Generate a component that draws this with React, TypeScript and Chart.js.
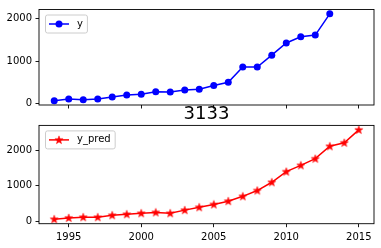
import { useEffect, useRef } from 'react';
import { Chart, registerables } from 'chart.js';

Chart.register(...registerables);

const yearsActual = [1994, 1995, 1996, 1997, 1998, 1999, 2000, 2001, 2002, 2003, 2004, 2005, 2006, 2007, 2008, 2009, 2010, 2011, 2012, 2013];
const valuesActual = [75, 113, 98, 116, 158, 207, 225, 282, 278, 323, 342, 429, 505, 858, 858, 1136, 1420, 1566, 1604, 2100];
const yearsPred = [1994, 1995, 1996, 1997, 1998, 1999, 2000, 2001, 2002, 2003, 2004, 2005, 2006, 2007, 2008, 2009, 2010, 2011, 2012, 2013, 2014, 2015];
const valuesPred = [58, 95, 114, 114, 170, 198, 226, 250, 226, 315, 395, 475, 568, 705, 868, 1102, 1402, 1580, 1768, 2118, 2217, 2582];
const xTickValues = [1995, 2000, 2005, 2010, 2015];
const yTickValues = [0, 1000, 2000];
const labelActual = 'y';
const labelPred = 'y_pred';
const titleText = '3133';

const FONT = '"DejaVu Sans", sans-serif';

function makeStar(color: string) {
  const c = document.createElement('canvas');
  c.width = 10;
  c.height = 10;
  const g = c.getContext('2d')!;
  g.beginPath();
  for (let i = 0; i < 10; i++) {
    const r = i % 2 === 0 ? 4.3 : 1.75;
    const ang = -Math.PI / 2 + (i * Math.PI) / 5;
    g.lineTo(5 + r * Math.cos(ang), 5.2 + r * Math.sin(ang));
  }
  g.closePath();
  g.fillStyle = color;
  g.fill();
  g.strokeStyle = color;
  g.lineWidth = 0.5;
  g.stroke();
  return c;
}

const boxPlugin = {
  id: 'mplBox',
  afterDraw(chart: any) {
    const a = chart.chartArea;
    const ctx = chart.ctx;
    ctx.save();
    ctx.strokeStyle = '#000';
    ctx.lineWidth = 0.9;
    ctx.strokeRect(a.left, a.top, a.right - a.left, a.bottom - a.top);
    ctx.restore();
  },
};

const legendPlugin = {
  id: 'mplLegend',
  afterDatasetsDraw(chart: any) {
    const ds = chart.data.datasets[0];
    const ctx = chart.ctx;
    const a = chart.chartArea;
    ctx.save();
    ctx.font = '10px ' + FONT;
    const tw = ctx.measureText(ds.label).width;
    const x = a.left + 6;
    const y = a.top + 5;
    const w = 4 + 20 + 8 + tw + 4;
    const h = 18;
    ctx.beginPath();
    ctx.roundRect(x + 0.5, y + 0.5, w, h, 2);
    ctx.fillStyle = 'rgba(255,255,255,0.8)';
    ctx.fill();
    ctx.strokeStyle = '#cccccc';
    ctx.lineWidth = 1;
    ctx.stroke();
    const cy = y + h / 2 + 0.5;
    ctx.strokeStyle = ds.borderColor;
    ctx.lineWidth = 1.5;
    ctx.beginPath();
    ctx.moveTo(x + 4, cy);
    ctx.lineTo(x + 24, cy);
    ctx.stroke();
    const ps = ds.pointStyle;
    if (ps && typeof ps !== 'string') {
      ctx.drawImage(ps, x + 14 - ps.width / 2, cy - ps.height / 2);
    } else {
      ctx.beginPath();
      ctx.arc(x + 14, cy, ds.pointRadius, 0, Math.PI * 2);
      ctx.fillStyle = ds.pointBackgroundColor;
      ctx.fill();
    }
    ctx.fillStyle = '#000';
    ctx.textBaseline = 'middle';
    ctx.textAlign = 'left';
    ctx.fillText(ds.label, x + 32, cy);
    ctx.restore();
  },
};

function limits(vals: number[]) {
  const lo = Math.min(...vals);
  const hi = Math.max(...vals);
  const m = (hi - lo) * 0.05;
  return [lo - m, hi + m];
}

function buildConfig(opts: {
  years: number[];
  values: number[];
  label: string;
  color: string;
  pointStyle: any;
  pointRadius: number;
  showXLabels: boolean;
  xAxisHeight: number;
  padTop: number;
  title?: string;
}) {
  const [xmin, xmax] = limits([...yearsActual, ...yearsPred]);
  const [ymin, ymax] = limits(opts.values);
  return {
    type: 'line' as const,
    data: {
      datasets: [
        {
          label: opts.label,
          data: opts.years.map((x, i) => ({ x, y: opts.values[i] })),
          borderColor: opts.color,
          backgroundColor: opts.color,
          borderWidth: 1.5,
          pointStyle: opts.pointStyle,
          pointRadius: opts.pointRadius,
          pointBackgroundColor: opts.color,
          pointBorderColor: opts.color,
          pointBorderWidth: 0,
          tension: 0,
          fill: false,
        },
      ],
    },
    options: {
      responsive: false,
      animation: false as const,
      events: [],
      layout: { padding: { top: opts.padTop, right: 7, left: 0, bottom: 0 } },
      plugins: {
        legend: { display: false },
        tooltip: { enabled: false },
        title: opts.title
          ? {
              display: true,
              text: opts.title,
              fullSize: false,
              color: '#000',
              font: { family: FONT, size: 18, weight: 'normal' as const },
              padding: { top: 3.8, bottom: 0 },
            }
          : { display: false },
      },
      scales: {
        x: {
          type: 'linear' as const,
          min: xmin,
          max: xmax,
          afterBuildTicks: (s: any) => {
            s.ticks = xTickValues.map((v) => ({ value: v }));
          },
          afterFit: (s: any) => {
            s.height = opts.xAxisHeight;
          },
          grid: { drawOnChartArea: false, drawTicks: true, tickLength: 3.5, color: '#000', lineWidth: 0.9 },
          border: { display: false },
          ticks: {
            display: opts.showXLabels,
            padding: 4,
            color: '#000',
            maxRotation: 0,
            autoSkip: false,
            font: { family: FONT, size: 10 },
            callback: (v: any) => String(v),
          },
        },
        y: {
          type: 'linear' as const,
          min: ymin,
          max: ymax,
          afterBuildTicks: (s: any) => {
            s.ticks = yTickValues.map((v) => ({ value: v }));
          },
          afterFit: (s: any) => {
            s.width = 39;
          },
          grid: { drawOnChartArea: false, drawTicks: true, tickLength: 3.5, color: '#000', lineWidth: 0.9 },
          border: { display: false },
          ticks: {
            padding: 3.5,
            color: '#000',
            autoSkip: false,
            font: { family: FONT, size: 10 },
            callback: (v: any) => String(v),
          },
        },
      },
    },
    plugins: [boxPlugin, legendPlugin],
  };
}

export default function App() {
  const topRef = useRef<HTMLCanvasElement>(null);
  const botRef = useRef<HTMLCanvasElement>(null);

  useEffect(() => {
    const top = new Chart(
      topRef.current!,
      buildConfig({
        years: yearsActual,
        values: valuesActual,
        label: labelActual,
        color: '#0000ff',
        pointStyle: 'circle',
        pointRadius: 3.5,
        showXLabels: false,
        xAxisHeight: 20,
        padTop: 6.3,
      }) as any
    );
    const bot = new Chart(
      botRef.current!,
      buildConfig({
        years: yearsPred,
        values: valuesPred,
        label: labelPred,
        color: '#ff0000',
        pointStyle: makeStar('#ff0000'),
        pointRadius: 4,
        showXLabels: true,
        xAxisHeight: 24.3,
        padTop: 0,
        title: titleText,
      }) as any
    );
    return () => {
      top.destroy();
      bot.destroy();
    };
  }, []);

  return (
    <div style={{ position: 'absolute', left: 0, top: 0, width: 381, height: 248, background: '#fff' }}>
      <canvas ref={topRef} width={381} height={125} style={{ position: 'absolute', left: 0, top: 0, display: 'block' }} />
      <canvas ref={botRef} width={381} height={148} style={{ position: 'absolute', left: 0, top: 100, display: 'block' }} />
    </div>
  );
}
